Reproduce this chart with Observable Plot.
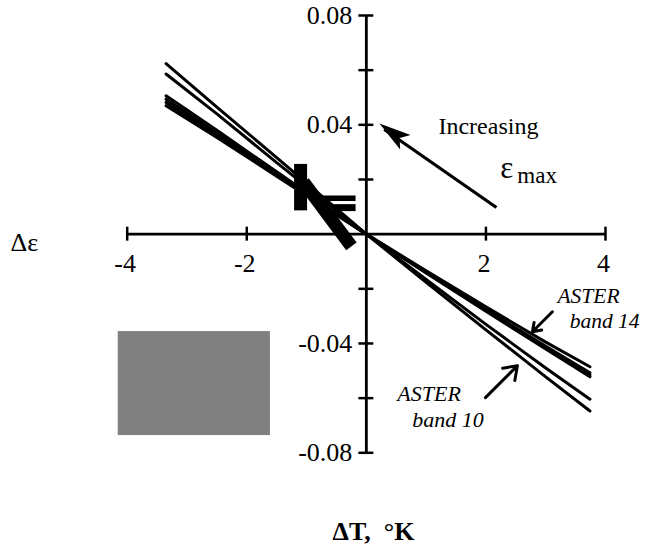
<!DOCTYPE html>
<html><head><meta charset="utf-8">
<style>
html,body{margin:0;padding:0;background:#fff;}
svg{display:block}
</style>
<script src="https://cdn.jsdelivr.net/npm/d3@7"></script>
<script src="https://cdn.jsdelivr.net/npm/@observablehq/plot@0.6"></script>
</head><body><div id="chart"></div>
<script>
// ΔT values (°K) at which each curve is sampled
const dT = [-3.35, -2.5, -1.5, -0.5, 0, 1, 2, 3, 3.74];
// Δε curves
const band10a = [0.0624, 0.0465, 0.0280, 0.0093, 0, -0.0176, -0.0350, -0.0522, -0.0647];
const band10b = [0.0586, 0.0440, 0.0262, 0.0087, 0, -0.0166, -0.0330, -0.0490, -0.0604];
const band14a = [0.0506, 0.0380, 0.0228, 0.0076, 0, -0.0142, -0.0282, -0.0420, -0.0522];
const band14b = [0.0494, 0.0370, 0.0222, 0.0074, 0, -0.0139, -0.0275, -0.0410, -0.0507];
const band14c = [0.0482, 0.0362, 0.0216, 0.0072, 0, -0.0134, -0.0266, -0.0395, -0.0485];
const band14d = [0.0470, 0.0354, 0.0212, 0.0070, 0, -0.0140, -0.0279, -0.0415, -0.0515];
const seriesNames = ["band10a", "band10b", "band14a", "band14b", "band14c", "band14d"];
const seriesValues = [band10a, band10b, band14a, band14b, band14c, band14d];

// dense cluster of short strokes near ΔT ≈ -1
const blobVert = [{x1: -1.10, y1: 0.0257, x2: -1.10, y2: 0.0087}];
const blobBars = [{x1: -0.87, y1: 0.0131, x2: -0.18, y2: 0.0131}];
const blobBars2 = [{x1: -0.55, y1: 0.0097, x2: -0.18, y2: 0.0097}];
const blobDiag = [{x1: -1.05, y1: 0.0190, x2: -0.25, y2: -0.0045}];

// axes
const xTicks = [-4, -2, 2, 4];
const yTicks = [0.08, 0.06, 0.04, 0.02, -0.02, -0.04, -0.06, -0.08];
const yLabels = [0.08, 0.04, -0.04, -0.08];

// gray box
const grayBox = [{x1: -4.15, x2: -1.604, y1: -0.03564, y2: -0.07369}];

const rows = [];
seriesNames.forEach((s, i) => dT.forEach((x, j) => rows.push({series: s, x, y: seriesValues[i][j]})));

// custom arrowhead symbol (apex at origin, pointing up)
const headSymbol = {
  draw(ctx, size) {
    const l = Math.sqrt(size);
    ctx.moveTo(0, 0);
    ctx.lineTo(-0.28 * l, l);
    ctx.lineTo(0, 0.78 * l);
    ctx.lineTo(0.28 * l, l);
    ctx.closePath();
  }
};

const font = "Liberation Serif";
const tX = 0.125, tY = 0.00256;
const T = (data, opts) => Plot.text(data, {fill: "black", fontFamily: font, ...opts});

const chart = Plot.plot({
  width: 649, height: 548,
  marginLeft: 126.7, marginRight: 44, marginTop: 15, marginBottom: 95.7,
  x: {domain: [-4, 4], axis: null},
  y: {domain: [-0.08, 0.08], axis: null},
  style: {fontFamily: font, background: "white", color: "black", overflow: "visible"},
  marks: [
    Plot.rect(grayBox, {x1: "x1", x2: "x2", y1: "y1", y2: "y2", fill: "#808080"}),
    // axes
    Plot.ruleY([0], {x1: -4, x2: 4, stroke: "black", strokeWidth: 2.8}),
    Plot.ruleX([0], {y1: -0.08, y2: 0.08, stroke: "black", strokeWidth: 2.8}),
    Plot.ruleX(xTicks, {x: d => d, y1: -tY, y2: tY, stroke: "black", strokeWidth: 2.5}),
    Plot.ruleY(yTicks, {y: d => d, x1: -tX, x2: tX, stroke: "black", strokeWidth: 2.5}),
    T(xTicks, {x: d => d, y: 0, dy: 30, dx: -2, text: d => String(d), fontSize: 26}),
    T(yLabels, {x: 0, y: d => d, dx: -14, textAnchor: "end", text: d => d.toFixed(2), fontSize: 26}),
    // curves
    Plot.line(rows, {x: "x", y: "y", z: "series", stroke: "black", strokeWidth: 3}),
    Plot.link(blobVert, {x1: "x1", y1: "y1", x2: "x2", y2: "y2", stroke: "black", strokeWidth: 13}),
    Plot.link(blobBars, {x1: "x1", y1: "y1", x2: "x2", y2: "y2", stroke: "black", strokeWidth: 5.5}),
    Plot.link(blobBars2, {x1: "x1", y1: "y1", x2: "x2", y2: "y2", stroke: "black", strokeWidth: 7}),
    Plot.link(blobDiag, {x1: "x1", y1: "y1", x2: "x2", y2: "y2", stroke: "black", strokeWidth: 13}),
    // axis titles
    T(["Δε"], {x: -5.72, y: -0.0032, fontSize: 26}),
    T(["ΔT,\u00a0 °K"], {x: 0.12, y: -0.1088, fontSize: 26, fontWeight: "bold"}),
    // Increasing ε_max annotation
    T(["Increasing"], {x: 1.206, y: 0.0396, textAnchor: "start", fontSize: 24}),
    T(["ε"], {x: 2.241, y: 0.0242, textAnchor: "start", fontSize: 31}),
    T(["max"], {x: 2.525, y: 0.0214, textAnchor: "start", fontSize: 23}),
    Plot.link([0], {x1: 2.176, y1: 0.00973, x2: 0.30, y2: 0.0383, stroke: "black", strokeWidth: 3.2}),
    Plot.dot([0], {x: 0.219, y: 0.04047, symbol: headSymbol, r: 18, rotate: -54.3, fill: "black", stroke: "none"}),
    // ASTER labels
    T(["ASTER"], {x: 3.196, y: -0.0226, textAnchor: "start", fontSize: 21.5, fontStyle: "italic"}),
    T(["band 14"], {x: 3.40, y: -0.0317, textAnchor: "start", fontSize: 21.5, fontStyle: "italic"}),
    T(["ASTER"], {x: 0.518, y: -0.0586, textAnchor: "start", fontSize: 22, fontStyle: "italic"}),
    T(["band 10"], {x: 0.769, y: -0.0678, textAnchor: "start", fontSize: 22, fontStyle: "italic"}),
    Plot.arrow([0], {x1: 3.112, y1: -0.0284, x2: 2.778, y2: -0.0357, stroke: "black", strokeWidth: 3, headLength: 14, headAngle: 70}),
    Plot.arrow([0], {x1: 1.992, y1: -0.0598, x2: 2.527, y2: -0.0481, stroke: "black", strokeWidth: 3, headLength: 14, headAngle: 70})
  ]
});
document.getElementById("chart").appendChild(chart);
</script>
</body></html>
